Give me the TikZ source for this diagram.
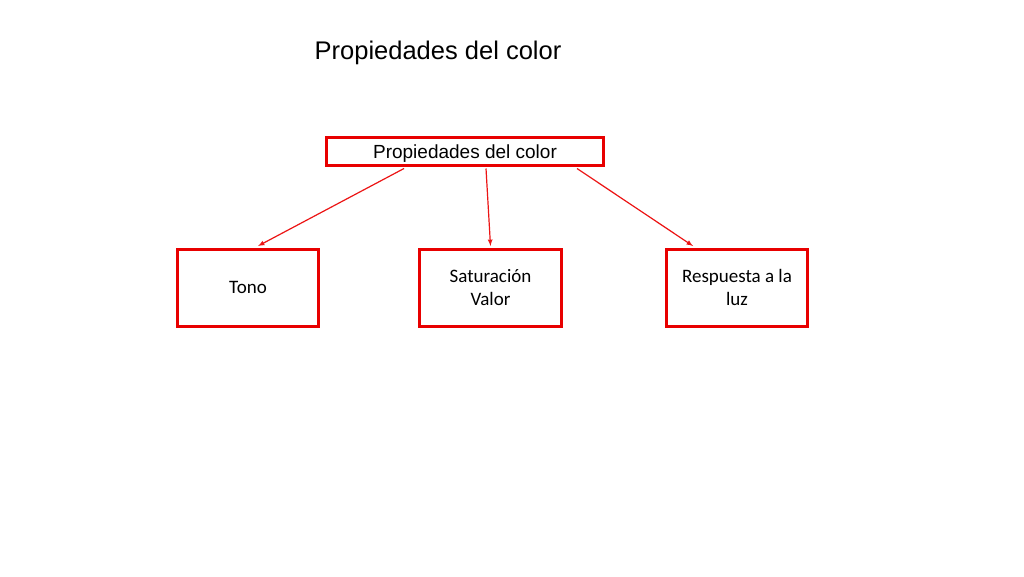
\documentclass[tikz,border=0pt]{standalone}
\usepackage{fontspec}
\setmainfont{Carlito}
\newfontfamily\arialfont{Liberation Sans}
\usepackage{tikz}
\definecolor{white}{RGB}{255,255,255}
\definecolor{black}{RGB}{0,0,0}
\definecolor{box_red}{RGB}{232,0,0}
\definecolor{arrow_red}{RGB}{236,20,20}

\begin{document}
\begin{tikzpicture}[x=1pt,y=-1pt]
	\useasboundingbox[fill=white] (0,0) rectangle (1024,576);
	\node[font=\arialfont\fontsize{25.5}{30}\selectfont,text=black] (title) at (438,52.5) {Propiedades del color};
	\node[draw=box_red,line width=3pt,fill=white,minimum width=277pt,minimum height=28pt,inner sep=0pt,text depth=0pt,font=\arialfont\fontsize{19}{23}\selectfont] (top) at (465,151.5) {Propiedades del color};
	\node[draw=box_red,line width=3pt,minimum width=141pt,minimum height=77pt,inner sep=0pt,align=center,font=\fontsize{19}{23}\selectfont] (tono) at (248,287.5) {Tono};
	\node[draw=box_red,line width=3pt,minimum width=142pt,minimum height=77pt,inner sep=0pt,align=center,font=\fontsize{19}{23}\selectfont] (sat) at (490.5,287.5) {Saturación\\Valor};
	\node[draw=box_red,line width=3pt,minimum width=141pt,minimum height=77pt,inner sep=0pt,align=center,font=\fontsize{19}{23}\selectfont] (resp) at (737,287.5) {Respuesta a la\\luz};
	
	\foreach \a/\y/\b in {-61/tono/10,21/sat/0,112/resp/-44}
		\draw[arrow_red,-latex,line width=1.2pt] ([xshift=\a pt,yshift=-1.5pt]top.south) -- ([xshift=\b pt,yshift=1.5pt]\y.north);
\end{tikzpicture}
\end{document}
